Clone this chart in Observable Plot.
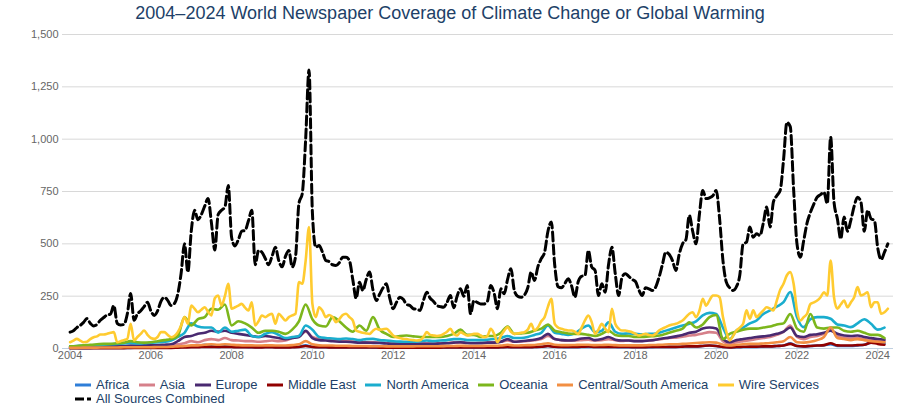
<!DOCTYPE html>
<html><head><meta charset="utf-8">
<script src="https://cdn.jsdelivr.net/npm/d3@7"></script>
<script src="https://cdn.jsdelivr.net/npm/@observablehq/plot@0.6"></script>
<style>
body{margin:0;background:#fff;width:900px;height:408px;overflow:hidden;position:relative;font-family:"Liberation Sans",Arial,sans-serif;}
#title{position:absolute;left:0;top:1px;width:900px;text-align:center;font-size:18px;color:#213f68;line-height:24px;white-space:nowrap;}
#chart{position:absolute;left:0;top:26px;}
#ytitle{position:absolute;left:7px;top:190px;transform:translate(-50%,-50%) rotate(-90deg);font-size:12px;font-weight:bold;color:#4d759e;white-space:nowrap;}
#legend{position:absolute;left:75px;top:378px;width:780px;display:flex;flex-wrap:wrap;font-size:13px;color:#213f68;line-height:14px;}
.item{display:flex;align-items:center;margin-right:9.5px;height:14px;white-space:nowrap;}
.item svg{margin-right:5px;}
</style></head>
<body>
<div id="title">2004–2024 World Newspaper Coverage of Climate Change or Global Warming</div>
<div id="ytitle">Articles per source</div>
<div id="chart"></div>
<div id="legend"></div>
<script>
// Series names and colours
const seriesNames = ["Africa","Asia","Europe","Middle East","North America","Oceania","Central/South America","Wire Services","All Sources Combined"];
const seriesColors = ["#2f7ed8","#d6808a","#492970","#910000","#1aadce","#7cb61c","#f28f43","#ffcb30","#000000"];
const yTicks = [0,250,500,750,1000,1250,1500];
const xTicks = [2004,2006,2008,2010,2012,2014,2016,2018,2020,2022,2024];

// Monthly, from Jan 2004
const allSources = [
78,85,100,110,125,143,120,108,115,135,148,160,
165,205,120,112,115,165,263,135,165,180,200,221,
180,158,180,225,245,230,205,215,260,360,500,365,
560,660,615,640,680,717,600,470,640,660,676,779,
530,490,520,560,564,610,660,400,468,460,430,400,
440,484,420,390,440,468,389,440,693,741,1000,1330,
650,484,492,460,420,415,400,397,410,436,436,420,
330,239,317,277,330,365,280,229,260,290,309,240,
190,221,245,235,210,205,190,188,182,230,269,240,
225,205,200,197,220,253,195,250,285,250,301,166,
229,220,213,213,225,301,265,190,285,262,330,381,
277,250,245,255,290,365,325,390,429,460,560,604,
400,295,290,310,333,300,245,320,345,349,468,390,
373,253,309,269,400,484,357,253,340,357,345,330,
320,280,253,290,285,277,293,340,400,460,450,420,
373,450,500,520,636,560,500,640,755,716,720,730,
755,620,420,317,290,277,295,350,500,508,580,532,
548,540,600,676,580,700,730,755,900,1080,1060,760,
500,436,516,600,650,690,723,735,747,692,1010,700,
620,524,628,560,612,680,723,700,560,660,620,612,
480,425,460,500];

// Monthly, from Jan 2004
const wireServices = [
30,38,46,38,30,32,45,54,58,67,67,70,
75,78,30,35,40,46,118,38,55,70,86,65,
50,46,55,78,78,65,54,60,78,110,150,118,
205,190,173,185,197,175,158,240,253,205,250,309,
190,197,205,213,195,182,221,110,130,158,150,160,
166,118,166,150,134,150,158,166,317,309,420,580,
213,150,197,180,150,160,150,126,140,160,166,150,
134,86,80,75,72,70,85,94,90,92,94,80,
62,54,50,46,45,42,40,38,40,55,78,65,
62,60,62,70,80,94,70,62,78,70,62,65,
70,70,62,54,60,94,70,30,60,85,102,80,
70,72,75,78,90,118,86,100,130,150,200,237,
118,100,94,90,86,86,80,70,100,134,158,126,
70,90,118,95,78,190,118,95,86,86,82,78,
70,62,66,70,64,62,70,86,95,102,110,115,
118,125,134,150,166,173,150,180,237,205,230,253,
253,245,150,80,38,60,86,100,118,182,142,182,
150,165,182,197,190,182,229,280,309,350,365,309,
182,134,150,166,213,220,229,245,269,253,420,245,
190,210,229,197,220,245,293,253,260,269,197,221,
221,166,173,190];

// Every two months (Jan, Mar, May, Jul, Sep, Nov), from Jan 2004
const oceania = [
10,12,15,18,20,22, 22,25,28,35,30,28, 30,35,40,45,60,150, 110,140,150,190,185,210,
110,130,120,100,75,85, 85,80,70,90,130,210, 140,110,105,150,130,100, 80,110,85,150,90,70,
55,60,62,58,55,55, 55,55,60,70,90,65, 65,55,60,60,75,105, 70,72,75,85,95,115,
85,78,72,70,70,65, 60,70,85,65,60,60, 55,55,58,60,65,75, 85,95,125,100,115,150,
160,45,70,80,90,95, 95,100,105,115,120,165, 95,80,165,100,95,100, 100,85,80,85,75,65,
65,50];
const northAmerica = [
10,12,14,15,16,18, 20,22,24,26,24,25, 28,30,32,38,55,75, 120,105,100,100,75,100,
80,85,90,60,55,70, 78,65,50,55,60,110, 90,55,50,48,45,48, 45,40,45,46,40,38,
35,33,32,32,35,38, 35,38,40,45,45,40, 40,40,42,45,50,60, 50,50,55,65,75,110,
75,70,65,72,95,110, 78,85,125,80,70,72, 70,68,70,72,80,90, 100,110,118,130,158,170,
165,100,45,86,100,120, 134,165,182,200,221,270, 150,102,140,150,150,142, 115,110,102,120,140,118,
90,100];
const europe = [
5,6,8,8,9,10, 10,12,12,14,14,15, 15,16,18,20,35,55, 60,70,75,85,80,85,
75,70,65,60,55,60, 55,50,45,50,55,85, 50,40,38,35,33,32, 30,28,28,27,26,24,
22,22,20,20,22,22, 22,24,25,28,30,26, 25,25,28,28,32,45, 32,35,38,42,50,70,
45,40,38,40,48,50, 40,45,55,42,38,38, 35,35,38,42,48,52, 58,65,75,80,95,100,
95,45,30,40,45,50, 55,58,62,70,80,100, 60,55,65,68,75,85, 70,62,60,62,55,50,
45,42];
const asia = [
4,5,5,6,6,7, 8,8,9,10,10,10, 10,12,12,14,20,25, 35,30,40,45,40,50,
40,38,35,35,32,35, 38,35,38,50,60,80, 55,45,42,40,38,36, 35,32,30,30,28,26,
25,24,22,22,24,24, 24,25,26,28,28,26, 26,28,28,30,32,38, 32,34,36,40,45,60,
45,40,38,38,40,42, 38,40,45,40,36,38, 36,36,38,42,45,50, 52,56,62,65,72,78,
75,35,22,30,35,40, 45,50,55,65,80,110, 55,45,55,60,70,90, 60,50,48,50,45,40,
38,36];
const centralSouthAmerica = [
3,3,4,4,4,5, 5,5,6,6,6,6, 6,7,7,8,10,12, 15,15,18,20,18,20,
18,16,15,15,14,15, 15,14,14,16,20,35, 20,15,14,14,13,13, 12,12,12,11,11,10,
10,10,10,10,11,11, 11,11,12,12,13,12, 12,12,13,13,14,18, 14,15,16,17,20,25,
18,16,16,17,18,18, 16,17,18,16,15,15, 15,15,16,17,18,20, 20,22,24,26,28,30,
28,18,14,18,20,22, 22,24,26,30,35,55, 30,28,32,40,55,100, 50,45,40,45,40,35,
32,30];
const middleEast = [
1,1,1,2,2,2, 2,2,2,3,3,3, 3,3,3,3,4,5, 6,6,8,8,7,8,
7,6,6,6,5,6, 6,5,5,6,7,12, 7,6,6,5,5,5, 5,5,5,5,4,4,
4,4,4,4,4,4, 4,4,5,5,5,5, 5,5,5,5,6,7, 6,6,6,7,8,12,
8,7,7,7,8,10, 7,7,8,7,7,7, 6,6,7,7,7,8, 8,9,10,10,12,14,
12,7,5,7,8,9, 9,10,10,12,14,22, 12,10,12,14,16,25, 15,14,14,16,18,28,
22,18];
const africa = [
2,2,2,2,3,3, 3,3,3,3,4,4, 4,4,4,5,6,8, 10,12,18,10,8,10,
8,7,7,6,6,7, 7,6,6,7,8,15, 8,6,6,5,5,5, 5,5,5,4,4,4,
4,4,4,4,4,4, 4,4,4,5,5,5, 5,5,5,5,6,7, 6,6,6,7,8,12,
8,7,6,6,7,8, 7,7,8,7,6,6, 6,6,6,7,7,8, 8,9,10,10,12,14,
12,7,5,6,7,8, 8,9,10,12,14,25, 12,10,12,14,15,20, 12,12,12,15,18,28,
30,25];

function rows(name, arr, stepMonths) {
  return arr.map((v, i) => ({series: name, t: 2004 + (i * stepMonths) / 12, v}));
}
const colored = [
  ...rows("Africa", africa, 2),
  ...rows("Asia", asia, 2),
  ...rows("Europe", europe, 2),
  ...rows("Middle East", middleEast, 2),
  ...rows("North America", northAmerica, 2),
  ...rows("Oceania", oceania, 2),
  ...rows("Central/South America", centralSouthAmerica, 2),
  ...rows("Wire Services", wireServices, 1)
];
const black = rows("All Sources Combined", allSources, 1);

const chart = Plot.plot({
  width: 900, height: 344,
  marginLeft: 62, marginRight: 7, marginTop: 8, marginBottom: 22,
  style: {fontFamily: "Liberation Sans, Arial, sans-serif", fontSize: "11px", background: "#fff"},
  x: {domain: [2003.812, 2024.39], label: null},
  y: {domain: [0, 1500], label: null},
  color: {domain: seriesNames, range: seriesColors},
  marks: [
    Plot.ruleY(yTicks.filter(d => d > 0), {stroke: "#d8d8d8", strokeWidth: 1}),
    Plot.axisY(yTicks, {tickSize: 0, tickPadding: 4, fill: "#666", tickFormat: d3.format(","), label: null}),
    Plot.ruleY([0], {stroke: "#c0d0e0", strokeWidth: 1}),
    Plot.axisX(xTicks, {tickSize: 5, tickPadding: -2, stroke: "#c0d0e0", fill: "#666", tickFormat: d => String(d), label: null}),
    Plot.line(colored, {x: "t", y: "v", z: "series", stroke: "series", strokeWidth: 2.6, curve: "monotone-x"}),
    Plot.line(black, {x: "t", y: "v", stroke: "#000", strokeWidth: 3, strokeDasharray: "9,4", curve: "monotone-x"})
  ]
});
document.getElementById("chart").appendChild(chart);

// Legend
const leg = document.getElementById("legend");
seriesNames.forEach((name, i) => {
  const it = document.createElement("div");
  it.className = "item";
  const dash = name === "All Sources Combined" ? ' stroke-dasharray="9,3"' : '';
  it.innerHTML = `<svg width="16" height="14"><line x1="0" y1="7" x2="16" y2="7" stroke="${seriesColors[i]}" stroke-width="3"${dash}/></svg><span>${name}</span>`;
  leg.appendChild(it);
});
</script>
</body></html>
